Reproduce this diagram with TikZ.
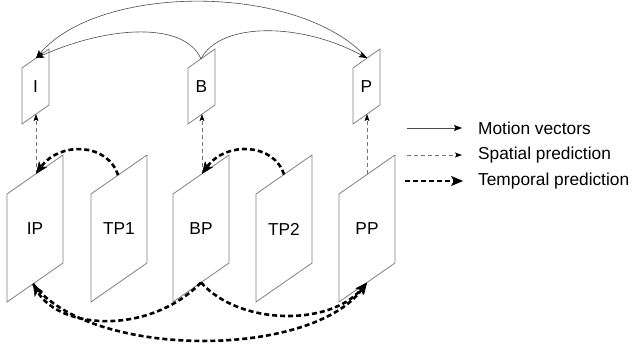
\documentclass[tikz,border=0pt]{standalone}
\usepackage{fontspec}
\setmainfont{Liberation Sans}
\usetikzlibrary{arrows.meta}
\begin{document}
\begin{tikzpicture}[x=1pt,y=-1pt,
  frame/.style={draw=black!50, line width=0.8pt},
  lbl/.style={font=\fontsize{17.3}{20}\selectfont, inner sep=0pt},
  motion/.style={draw=black!70, line width=0.6pt, -{Stealth[length=8pt,width=6pt,inset=1.5pt,black]}},
  spatial/.style={draw=black!55, line width=0.6pt, dash pattern=on 4pt off 3pt, -{Stealth[length=7pt,width=5pt,inset=1.5pt,black]}},
  temporal/.style={draw=black, line width=2.6pt, dash pattern=on 5pt off 3pt, -{Stealth[length=12pt,width=10pt,inset=3pt,line width=0.5pt]}},
]
\useasboundingbox (0,0) rectangle (632,347);

% small frames (width 27, height 56, slant 19)
\draw[frame] (22,68) -- (22,124) -- (49,105) -- (49,49) -- cycle;
\draw[frame] (188,68) -- (188,124) -- (215,105) -- (215,49) -- cycle;
\draw[frame] (353,68) -- (353,124) -- (380,105) -- (380,49) -- cycle;
\node[lbl] (I) at (35.5,86.5) {I};
\node[lbl] (B) at (201.5,86.5) {B};
\node[lbl] (P) at (366.5,86.5) {P};

% large frames (width 56, height 108, slant 39)
\draw[frame] (7,194) -- (7,302) -- (63,263) -- (63,155) -- cycle;
\draw[frame] (91,194) -- (91,302) -- (147,263) -- (147,155) -- cycle;
\draw[frame] (173,194) -- (173,302) -- (229,263) -- (229,155) -- cycle;
\draw[frame] (256,194) -- (256,302) -- (312,263) -- (312,155) -- cycle;
\draw[frame] (339,194) -- (339,302) -- (395,263) -- (395,155) -- cycle;
\node[lbl] (IP) at (35,229) {IP};
\node[lbl] (TP1) at (119,229) {TP1};
\node[lbl] (BP) at (201,229) {BP};
\node[lbl] (TP2) at (284,229) {TP2};
\node[lbl] (PP) at (367,229) {PP};

% connection points
\coordinate (Itop) at (36,58.1);
\coordinate (Ibot) at (36,114.1);
\coordinate (Btop) at (201,58.9);
\coordinate (Bbot) at (202,114.1);
\coordinate (Ptop) at (367,58.1);
\coordinate (Pbot) at (367,114.1);
\coordinate (IPtop) at (36,173.8);
\coordinate (IPbot) at (33,283.9);
\coordinate (TP1top) at (118,175.2);
\coordinate (BPtop) at (202,173.8);
\coordinate (BPbot) at (201,282.5);
\coordinate (TP2top) at (284,174.5);
\coordinate (PPtop) at (367,174.5);
\coordinate (PPbot) at (367,282.5);

% motion vectors
\draw[motion] (Ptop) .. controls (300,-17) and (100,-17) .. (Itop);
\draw[motion] (Btop) .. controls (185,22) and (110,25) .. (Itop);
\draw[motion] (Btop) .. controls (220,22) and (300,22) .. (Ptop);

% spatial prediction
\draw[spatial] (IPtop) -- (Ibot);
\draw[spatial] (BPtop) -- (Bbot);
\draw[spatial] (PPtop) -- (Pbot);

% temporal prediction
\draw[temporal] (TP1top) .. controls (108,143) and (60,141) .. (IPtop);
\draw[temporal] (TP2top) .. controls (274,143) and (226,141) .. (BPtop);
\draw[temporal] (BPbot) .. controls (150,335) and (60,330) .. (IPbot);
\draw[temporal] (BPbot) .. controls (240,326) and (330,326) .. (PPbot);
\draw[temporal] (IPbot) .. controls (90,359) and (310,359) .. (PPbot);

% legend
\coordinate (m1) at (407,128);
\coordinate (m2) at (462,128);
\coordinate (s1) at (407,155);
\coordinate (s2) at (462,155);
\coordinate (t1) at (405,181);
\coordinate (t2) at (463,181);
\draw[motion] (m1) -- (m2);
\draw[spatial] (s1) -- (s2);
\draw[temporal] (t1) -- (t2);
\node[lbl, anchor=west] (lm) at (478,128) {Motion vectors};
\node[lbl, anchor=west] (ls) at (478,155) {Spatial prediction};
\node[lbl, anchor=west] (lt) at (478,181) {Temporal prediction};
\end{tikzpicture}
\end{document}
